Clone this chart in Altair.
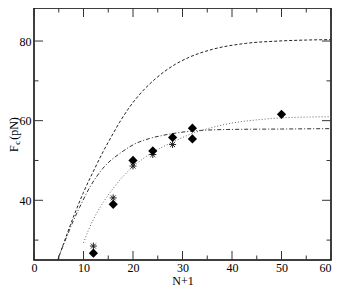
import altair as alt
import pandas as pd

# ---- data ----
dash_N = [4.8, 6, 7.2, 8.5, 10, 12.2, 14, 15.5, 17.3, 19.3, 22, 24.6, 28.6, 31.3, 36, 42.7, 49.4, 55, 60]
dash_F = [25, 29.2, 33.3, 37.5, 42, 47.8, 52.3, 55.7, 59.6, 63.4, 67.5, 70.6, 74.2, 75.9, 77.9, 79.4, 80.0, 80.25, 80.35]

dashdot_N = [4.9, 6.5, 8, 9.2, 11.2, 13.9, 17.6, 20.6, 23.3, 26, 29.3, 33, 40, 50, 60]
dashdot_F = [25.5, 30.5, 35, 38.2, 43.1, 48, 52, 54.3, 55.5, 56.3, 57.0, 57.5, 57.8, 57.9, 58]

dot_N = [10, 11, 12, 13, 14, 16, 18, 20, 22, 24, 26, 28, 32, 36, 40, 45, 50, 55, 60]
dot_F = [29.3, 32.5, 35.2, 37.5, 39.5, 43, 46, 48.4, 50.4, 52.1, 53.4, 54.6, 56.8, 58.3, 59.4, 60.2, 60.7, 60.9, 61]

diam_N = [12, 16, 20, 24, 28, 32, 32, 50]
diam_F = [26.7, 39.0, 50.0, 52.4, 55.8, 58.1, 55.4, 61.6]

star_N = [12, 16, 20, 24, 28]
star_F = [28.5, 40.6, 48.6, 51.5, 54.0]

x_major = [0, 10, 20, 30, 40, 50, 60]
x_minor = [5, 15, 25, 35, 45, 55]
y_major = [40, 60, 80]
y_minor = [30, 50, 70]

# ---- chart ----
W, H = 297, 252
FONT = "Liberation Serif"

xs = alt.Scale(domain=[0, 60], nice=False, zero=False)
ys = alt.Scale(domain=[25, 88.3], nice=False, zero=False)

x_axis = alt.Axis(values=x_major, ticks=False, domain=False, grid=False, labelFont=FONT,
                  labelFontSize=12, labelColor="black", labelPadding=2, title="N+1",
                  labelAlign={"condition": {"test": "datum.value === 60", "value": "right"},
                              "value": "center"},
                  titleFont=FONT, titleFontSize=12, titleFontWeight="normal", titleColor="black",
                  titlePadding=2, labelFlush=False)
y_axis = alt.Axis(values=y_major, ticks=False, domain=False, grid=False, labelFont=FONT,
                  labelFontSize=12, labelColor="black", labelPadding=3, title=None)


def xenc():
    return alt.X("N:Q", scale=xs, axis=x_axis)


def yenc():
    return alt.Y("F:Q", scale=ys, axis=y_axis)


def curve(N, F, dash, color):
    df = pd.DataFrame({"N": N, "F": F})
    return alt.Chart(df).mark_line(strokeDash=dash, color=color, strokeWidth=1,
                                   interpolate="monotone", clip=True).encode(x=xenc(), y=yenc())


dashed = curve(dash_N, dash_F, [3, 2], "#222")
dashdot = curve(dashdot_N, dashdot_F, [4, 2, 1, 2], "#333")
dotted = curve(dot_N, dot_F, [1, 2], "#666")

diamonds = alt.Chart(pd.DataFrame({"N": diam_N, "F": diam_F})).mark_point(
    shape="diamond", filled=True, size=85, color="black", opacity=1
).encode(x=xenc(), y=yenc())

ASTER = "M-1,0L1,0M0,-1L0,1M-0.7,-0.7L0.7,0.7M-0.7,0.7L0.7,-0.7"
stars = alt.Chart(pd.DataFrame({"N": star_N, "F": star_F})).mark_point(
    shape=ASTER, filled=False, size=49, stroke="#222", strokeWidth=1, opacity=1
).encode(x=xenc(), y=yenc())


def xticks(vals, length):
    df = pd.DataFrame({"N": vals})
    bot = alt.Chart(df).mark_rule(color="#333", strokeWidth=1).encode(
        x=alt.X("N:Q", scale=xs, axis=x_axis), y=alt.value(H), y2=alt.value(H - length))
    top = alt.Chart(df).mark_rule(color="#333", strokeWidth=1).encode(
        x=alt.X("N:Q", scale=xs, axis=x_axis), y=alt.value(0), y2=alt.value(length))
    return [bot, top]


def yticks(vals, length):
    df = pd.DataFrame({"F": vals})
    left = alt.Chart(df).mark_rule(color="#333", strokeWidth=1).encode(
        y=alt.Y("F:Q", scale=ys, axis=y_axis), x=alt.value(0), x2=alt.value(length))
    right = alt.Chart(df).mark_rule(color="#333", strokeWidth=1).encode(
        y=alt.Y("F:Q", scale=ys, axis=y_axis), x=alt.value(W), x2=alt.value(W - length))
    return [left, right]


one = alt.Data(values=[{"k": 1}])
t_F = alt.Chart(one).mark_text(text="F", font=FONT, fontSize=12, angle=270, align="left",
                               baseline="alphabetic", color="black").encode(
    x=alt.value(-16.5), y=alt.value(144))
t_c = alt.Chart(one).mark_text(text="c", font=FONT, fontSize=9, angle=270, align="left",
                               baseline="alphabetic", color="black").encode(
    x=alt.value(-14), y=alt.value(136.7))
t_pN = alt.Chart(one).mark_text(text="(pN)", font=FONT, fontSize=12, angle=270, align="left",
                                baseline="alphabetic", color="black").encode(
    x=alt.value(-16.5), y=alt.value(131.8))

layers = [dashed, dashdot, dotted, stars, diamonds]
layers += xticks(x_major, 9) + xticks(x_minor, 4.5) + yticks(y_major, 9) + yticks(y_minor, 4.5)
layers += [t_F, t_c, t_pN]

chart = alt.layer(*layers).properties(
    width=W, height=H,
    autosize=alt.AutoSizeParams(type="none"),
    padding={"left": 26, "top": 0, "right": 1, "bottom": 26},
    background="white",
).configure_view(stroke="black", strokeWidth=1.5)

chart.save("out.html", embed_options={"renderer": "svg", "actions": False})
